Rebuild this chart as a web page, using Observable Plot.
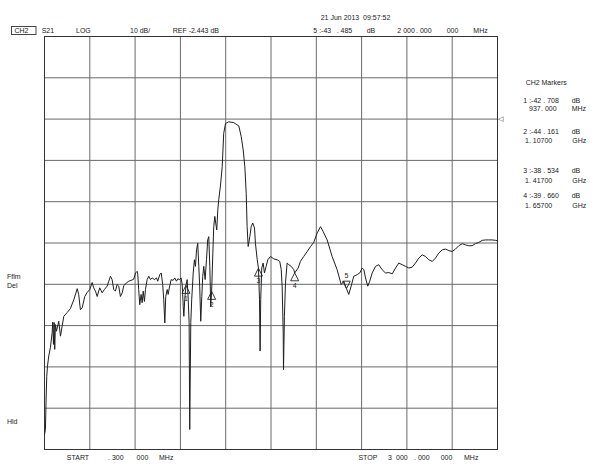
<!DOCTYPE html>
<html><head><meta charset="utf-8">
<script src="https://cdn.jsdelivr.net/npm/d3@7"></script>
<script src="https://cdn.jsdelivr.net/npm/@observablehq/plot@0.6"></script>
<style>body{margin:0;background:#fff;} #chart{width:600px;height:468px;}</style>
</head><body><div id="chart"></div>
<script>
// Trace S21 (frequency MHz, level dB)
const freqMHz = [0.3,6.6,11.3,15.2,19.9,28.5,39.7,51,55,59.6,64,68,72.8,79.5,94.7,106,117,128,150,172,194,217,227,238,250,267,283,300,316,326,338,349,366,382,397,415,426,437,448,459,470,481,492,503,515,525,543,558,574,591,603,614,618,624,631,640,647,654,662,669,680,691,702,713,728,742,750,764,773,783,790,797,803,813,819,828,839,852,863,874,883,894,905,912,919,923,929,937,945,952,958,962,969,975,985,993,1000,1007,1015,1022,1028,1035,1042,1048,1055,1064,1073,1081,1088,1095,1101,1107,1115,1121,1128,1134,1141,1148,1154,1166,1177,1187,1199,1220,1254,1287,1303,1316,1327,1336,1342,1349,1360,1369,1379,1391,1397,1409,1417,1424,1428,1432,1439,1448,1457,1468,1479,1497,1519,1541,1558,1568,1574,1581,1583,1589,1596,1607,1618,1634,1651,1657,1680,1695,1717,1740,1762,1783,1806,1828,1846,1872,1905,1938,1965,1982,2000,2015,2031,2048,2071,2088,2104,2115,2126,2141,2154,2170,2192,2214,2236,2258,2280,2303,2325,2346,2369,2391,2413,2435,2457,2479,2501,2523,2545,2568,2589,2611,2634,2656,2678,2700,2722,2744,2766,2788,2810,2832,2854,2876,2899,2921,2942,2965,2987,3000];
const levelDb = [-78.8,-77.6,-69.5,-64.7,-62.3,-59.8,-57.7,-54.1,-51.6,-57.0,-51.7,-58.2,-52.2,-53.8,-51.4,-55.0,-52.6,-50.2,-49.3,-48.3,-46.2,-43.5,-45.0,-48.6,-48.1,-45.4,-44.4,-43.7,-42.0,-43.3,-44.1,-45.4,-43.3,-44.5,-43.7,-42.9,-41.7,-40.5,-41.3,-43.7,-44.1,-42.5,-42.9,-45.4,-44.5,-42.8,-42.1,-41.7,-41.5,-41.2,-39.7,-39.3,-40.1,-43.7,-47.4,-44.9,-46.9,-44.1,-46.6,-43.7,-41.3,-40.5,-41.3,-40.9,-41.3,-40.9,-41.7,-40.1,-39.7,-42.5,-46.2,-51.8,-45.4,-43.7,-44.9,-43.1,-41.3,-41.5,-40.9,-41.7,-41.1,-41.3,-40.9,-42.5,-47.8,-50.2,-46.2,-42.7,-41.3,-46.2,-51.8,-77.6,-51.7,-46.2,-39.7,-36.5,-38.1,-34.1,-32.5,-38.1,-42.9,-51.4,-45.4,-40.5,-38.1,-41.3,-36.5,-31.7,-30.9,-38.1,-47.8,-44.2,-34.9,-28.5,-26.0,-27.6,-29.3,-24.4,-22.0,-18.4,-14.0,-5.9,-3.5,-3.1,-3.3,-4.1,-6.7,-9.9,-14.0,-20.4,-28.5,-33.3,-30.9,-28.5,-27.6,-28.8,-32.5,-36.5,-38.5,-46.2,-58.6,-46.2,-38.5,-37.3,-39.7,-38.1,-36.5,-35.7,-36.3,-36.5,-36.9,-38.9,-42.9,-54.2,-63.1,-50.2,-42.1,-37.3,-37.7,-38.1,-38.9,-39.7,-38.5,-36.9,-35.7,-34.5,-33.3,-32.3,-30.0,-28.5,-29.7,-31.7,-35.7,-38.9,-42.5,-41.7,-43.5,-44.9,-42.9,-40.5,-40.1,-39.7,-38.5,-38.9,-40.9,-42.9,-41.7,-39.7,-38.1,-37.7,-38.9,-39.7,-39.6,-39.9,-38.5,-37.3,-37.7,-38.1,-38.5,-38.3,-37.3,-36.1,-35.3,-35.7,-36.5,-36.9,-36.1,-34.9,-34.1,-33.9,-34.3,-34.5,-33.9,-33.1,-32.6,-32.9,-33.1,-33.1,-32.6,-32.3,-31.8,-31.7,-31.7,-31.7,-31.8,-31.9];

// Markers
const markerIds = [1, 2, 3, 4, 5];
const markerFreqMHz = [937, 1107, 1417, 1657, 2000];
const markerDb = [-42.708, -44.161, -38.534, -39.660, -43.485];

// Scale settings
const refDb = -2.443;
const dbPerDiv = 10;
const startMHz = 0.3;
const stopMHz = 3000;

const trace = freqMHz.map((f, i) => ({f, db: levelDb[i]}));
const markers = markerIds.map((id, i) => ({id, f: markerFreqMHz[i], db: markerDb[i]}));
const yMin = refDb - 8 * dbPerDiv, yMax = refDb + 2 * dbPerDiv;
const gridX = d3.range(11).map(i => startMHz + i * (stopMHz - startMHz) / 10);
const gridY = d3.range(11).map(i => yMin + i * dbPerDiv);

const triUp = {draw(c, size) { const h = Math.sqrt(size); c.moveTo(0, 0); c.lineTo(h / 2, h); c.lineTo(-h / 2, h); c.closePath(); }};
const triDown = {draw(c, size) { const h = Math.sqrt(size); c.moveTo(0, 0); c.lineTo(h / 2, -h); c.lineTo(-h / 2, -h); c.closePath(); }};
const active = 5;

const svg = Plot.plot({
  width: 600, height: 468,
  marginLeft: 44, marginRight: 103, marginTop: 36, marginBottom: 19,
  style: {fontFamily: "Liberation Sans, Arial, sans-serif", fontSize: "7px", background: "#fff", color: "#222"},
  x: {domain: [startMHz, stopMHz], axis: null},
  y: {domain: [yMin, yMax], axis: null},
  marks: [
    Plot.ruleX(gridX, {stroke: "#6a6a6a", strokeWidth: 1}),
    Plot.ruleY(gridY, {stroke: "#6a6a6a", strokeWidth: 1}),
    Plot.frame({stroke: "#333"}),
    Plot.line(trace, {x: "f", y: "db", stroke: "#1e1e1e", strokeWidth: 1}),
    Plot.dot(markers.filter(m => m.id !== active), {x: "f", y: "db", symbol: triUp, r: 4.5, stroke: "#222", fill: "none", strokeWidth: 0.9}),
    Plot.dot(markers.filter(m => m.id === active), {x: "f", y: "db", symbol: triDown, r: 4.2, stroke: "#222", fill: "none", strokeWidth: 0.9}),
    Plot.text(markers.filter(m => m.id !== active), {x: "f", y: "db", text: d => String(d.id), dy: 13, fontSize: 7, fill: "#222"}),
    Plot.text(markers.filter(m => m.id === active), {x: "f", y: "db", text: d => String(d.id), dy: -13, fontSize: 7, fill: "#222"}),
    Plot.text([refDb], {x: () => stopMHz, y: d => d, text: () => "◁", textAnchor: "start", dx: 0, fontSize: 7, fill: "#222"})
  ]
});
document.getElementById("chart").appendChild(svg);

const g = d3.select(svg).append("g")
  .attr("font-family", "Liberation Sans, Arial, sans-serif")
  .attr("text-anchor", "start")
  .attr("font-size", "7px").attr("fill", "#222");
function t(x, y, s) { g.append("text").attr("x", x).attr("y", y).attr("text-anchor", "start").text(s); }

// header
g.append("rect").attr("x", 11.5).attr("y", 26.5).attr("width", 24.5).attr("height", 8).attr("fill", "none").attr("stroke", "#333").attr("stroke-width", 0.9);
t(14.5, 33.3, "CH2");
t(41.7, 33.3, "S21");
t(76, 33.3, "LOG");
t(130, 33.3, "10 dB/");
t(172.7, 33.3, "REF -2.443 dB");
t(320.7, 19.5, "21 Jun 2013  09:57:52");
t(313.3, 33.3, "5 :-43");
t(336.7, 33.3, ". 485");
t(366.7, 33.3, "dB");
t(397.3, 33.3, "2 000");
t(416, 33.3, ". 000");
t(446.7, 33.3, "000");
t(473.3, 33.3, "MHz");

// right panel
t(525.7, 85, "CH2");
t(541.5, 85, "Markers");
const rows = [
  ["1 :-42", "708", 102.7],
  ["2 :-44", "161", 134],
  ["3 :-38", "534", 173.3],
  ["4 :-39", "660", 198]
];
rows.forEach(([a, c, y]) => {
  t(523.3, y, a); t(543.3, y, ". " + c); t(571.7, y, "dB");
});
t(529, 111, "937"); t(541, 111, ". 000"); t(571.7, 111, "MHz");
t(525, 143.3, "1. 10700"); t(572.3, 143.3, "GHz");
t(525, 183.3, "1. 41700"); t(572.3, 183.3, "GHz");
t(525, 208.3, "1. 65700"); t(572.3, 208.3, "GHz");

// left labels
t(7, 279, "Fflm");
t(7, 288, "Del");
t(7, 424, "Hld");

// bottom labels
t(66.8, 460, "START");
t(108, 460, ". 300");
t(136.6, 460, "000");
t(159, 460, "MHz");
t(358.4, 460, "STOP");
t(388, 460, "3");
t(396, 460, "000");
t(414, 460, ". 000");
t(440.7, 460, "000");
t(464, 460, "MHz");
</script>
</body></html>
